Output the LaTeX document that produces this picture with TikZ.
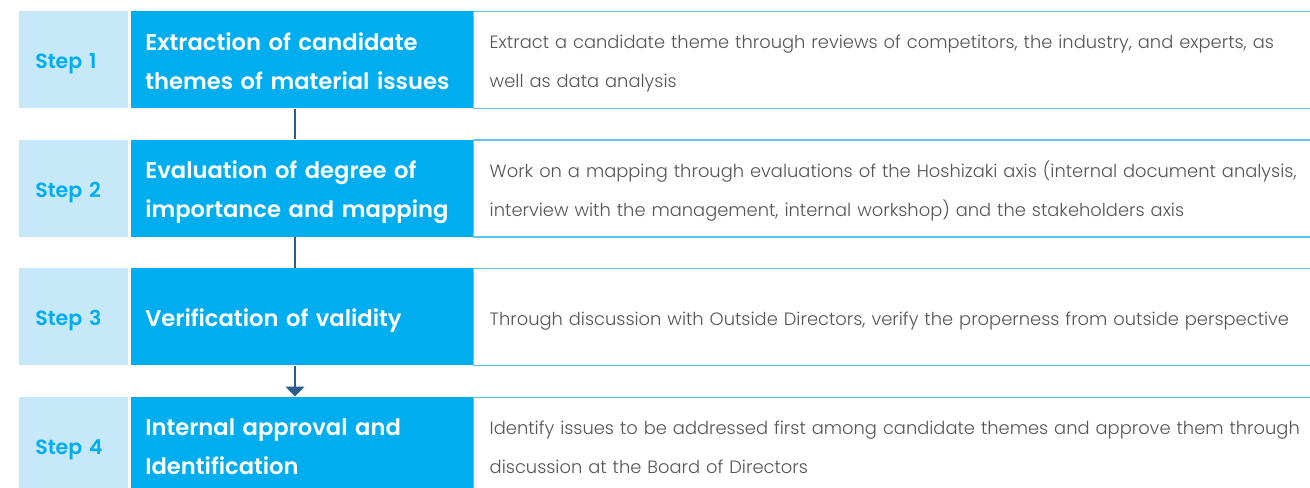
\documentclass[tikz,border=0pt]{standalone}
\usepackage{fontspec}
\setmainfont{Poppins}
\IfFontExistsTF{Poppins Light}{\newfontfamily\descfont{Poppins Light}}{\newfontfamily\descfont{Poppins}}
\IfFontExistsTF{Poppins SemiBold}{\newfontfamily\headfont{Poppins SemiBold}}{\newfontfamily\headfont{Poppins}[UprightFont=* Bold]}
\usetikzlibrary{arrows.meta}
\definecolor{stepblue}{HTML}{C7E8F8}
\definecolor{titleblue}{HTML}{00AEEF}
\definecolor{lineblue}{HTML}{5CC6EF}
\definecolor{linkblue}{HTML}{2B5E8C}
\definecolor{desctext}{HTML}{555555}

\begin{document}
\begin{tikzpicture}[x=0.75pt, y=-0.75pt,
	% fixed first-line height and last-line depth, so the text sits in the middle
	evenlines/.style = {execute at begin node={\rule{0pt}{\dimexpr1em+3pt\relax}}, execute at end node={\rule[-0.3em]{0pt}{0pt}}},
	stepbox/.style = {anchor=north west, evenlines, fill=stepblue, text=titleblue, inner xsep=12pt, inner ysep=0pt,
		text width=57.75pt, minimum height=72.75pt, align=left, font=\headfont\fontsize{15.4}{18}\selectfont},
	titlebox/.style = {anchor=north west, evenlines, fill=titleblue, text=white, inner xsep=10.5pt, inner ysep=0pt,
		text width=235.5pt, minimum height=72.75pt, align=left, font=\headfont\fontsize{17}{29.25}\selectfont},
	descbox/.style = {anchor=north west, evenlines, draw=lineblue, line width=1.1pt, fill=white, text=desctext,
		inner xsep=12pt, inner ysep=0pt, text width=621pt, minimum height=72.75pt, align=left,
		font=\descfont\fontsize{13.4}{29.25}\selectfont},
	link/.style = {draw=linkblue, line width=1.2pt}]
	\useasboundingbox (0,0) rectangle (1310,488);
	% row 1
	\node[descbox] (desc1) at (473,11) {Extract a candidate theme through reviews of competitors, the industry, and experts, as\\well as data analysis};
	\node[stepbox] (step1) at (19,11) {Step 1};
	\node[titlebox] (title1) at (131,11) {Extraction of candidate\\themes of material issues};
	% row 2
	\node[descbox] (desc2) at (473,139.5) {Work on a mapping through evaluations of the Hoshizaki axis (internal document analysis,\\interview with the management, internal workshop) and the stakeholders axis};
	\node[stepbox] (step2) at (19,139.5) {Step 2};
	\node[titlebox] (title2) at (131,139.5) {Evaluation of degree of\\importance and mapping};
	% row 3
	\node[descbox] (desc3) at (473,268) {Through discussion with Outside Directors, verify the properness from outside perspective};
	\node[stepbox] (step3) at (19,268) {Step 3};
	\node[titlebox] (title3) at (131,268) {Verification of validity};
	% row 4
	\node[descbox] (desc4) at (473,396.5) {Identify issues to be addressed first among candidate themes and approve them through\\discussion at the Board of Directors};
	\node[stepbox] (step4) at (19,396.5) {Step 4};
	\node[titlebox] (title4) at (131,396.5) {Internal approval and\\Identification};
	% links between the steps
	\draw[link] (title1.south -| 295,0) -- (title2.north -| 295,0);
	\draw[link] (title2.south -| 295,0) -- (title3.north -| 295,0);
	\draw[link, -{Triangle[width=14.25pt, length=7.5pt]}] (title3.south -| 295,0) -- (title4.north -| 295,0);
\end{tikzpicture}
\end{document}
